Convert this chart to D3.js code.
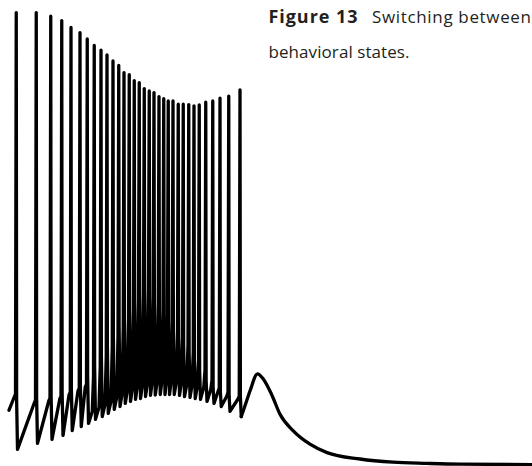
<!DOCTYPE html>
<html>
<head>
<meta charset="utf-8">
<script src="https://cdn.jsdelivr.net/npm/d3@7"></script>
<style>
  html, body { margin: 0; padding: 0; background: #fff; }
  svg { display: block; }
</style>
</head>
<body>
<svg id="chart" width="532" height="466"></svg>
<script>
// ---- Data (time in ms, membrane potential in mV) ----
const spikeTimes = [33, 113, 171, 215, 252, 288, 317, 345, 372, 396, 420, 443, 464, 485, 505, 525,
  545, 565, 584, 604, 623, 641, 660, 681, 701, 723, 744, 765, 791, 819, 848, 883, 928];
const spikePeaks = [39.6, 39.6, 38.7, 37.6, 35.9, 34.6, 33.0, 31.4, 30.2, 29.0, 27.5, 26.4, 24.6, 24.1,
  22.6, 22.1, 20.6, 20.0, 19.6, 18.6, 18.1, 17.5, 17.5, 16.7, 16.7, 16.6, 16.3, 16.5, 17.2, 17.5,
  18.2, 18.7, 20.3];
// potential at which the fast upstroke begins
const spikeOnsets = [-55.8, -57.3, -56.8, -56.3, -55.3, -54.3, -53.3, -51.3, -48.8, -46.3, -43.8, -41.3,
  -39.0, -36.8, -34.5, -32.3, -30.5, -29.8, -31.3, -33.0, -34.8, -36.3, -38.0, -39.8, -41.5, -43.3,
  -45.3, -47.3, -49.8, -52.3, -54.3, -55.3, -56.3];
// potential reached at the end of the slow recovery, just before onset
const recoveries = [-56.5, -58.0, -57.5, -57.0, -56.0, -55.0, -54.0, -60.1, -59.1, -58.4, -57.6, -56.6,
  -55.9, -55.1, -54.6, -54.1, -53.9, -53.4, -53.1, -53.0, -52.9, -52.9, -52.9, -52.9, -53.1, -53.4,
  -53.6, -53.9, -54.1, -54.6, -55.1, -56.3, -57.0];
// after-spike minimum
const troughs = [-69.6, -68.1, -67.1, -66.1, -64.9, -63.9, -63.1, -62.1, -61.4, -60.6, -59.6, -58.9,
  -58.1, -57.6, -57.1, -56.9, -56.4, -56.1, -56.0, -55.9, -55.9, -55.9, -55.9, -56.1, -56.4, -56.6,
  -56.9, -57.1, -57.6, -58.1, -58.9, -60.1, -61.4];
const recoveryLead = 8; // ms before peak when slow recovery ends
const riseTime = 3;     // ms from onset to peak
const repolTime = 1.5;  // ms of fast repolarisation after the peak
const fallTime = 5;     // ms from peak to trough
const startPoint = [4, -59.8];
const tailTimes = [948, 968, 998, 1021, 1054, 1088, 1140, 1208, 1276, 1408, 1540, 1676, 1808, 2100];
const tailValues = [-58.7, -55.0, -50.7, -52.0, -55.8, -60.8, -64.9, -68.3, -70.4, -72.0, -72.8, -73.1, -73.3, -73.4];

const titleBold = "Figure 13";
const titleRest = "Switching between";
const titleLine2 = "behavioral states.";

// ---- Build trace ----
const burst = [startPoint];
spikeTimes.forEach((t, i) => {
  const nextOnset = i + 1 < spikeOnsets.length ? spikeOnsets[i + 1] : spikeOnsets[i];
  burst.push([t - recoveryLead, recoveries[i]]);
  burst.push([t - riseTime, spikeOnsets[i]]);
  burst.push([t, spikePeaks[i]]);
  burst.push([t + repolTime, nextOnset]);
  burst.push([t + fallTime, troughs[i]]);
});
const lastIdx = spikeTimes.length - 1;
const tail = [[spikeTimes[lastIdx] + fallTime, troughs[lastIdx]]];
tailTimes.forEach((t, i) => tail.push([t, tailValues[i]]));

const svg = d3.select("#chart");
const x = d3.scaleLinear().domain([0, 2100]).range([8, 533]);
const y = d3.scaleLinear().domain([-75, 40]).range([471, 11]);

const burstLine = d3.line().x(d => x(d[0])).y(d => y(d[1])).curve(d3.curveLinear);
const tailLine = d3.line().x(d => x(d[0])).y(d => y(d[1])).curve(d3.curveMonotoneX);

[[burst, burstLine], [tail, tailLine]].forEach(([data, gen]) => {
  svg.append("path")
    .datum(data)
    .attr("d", gen)
    .attr("fill", "none")
    .attr("stroke", "#000")
    .attr("stroke-width", 3.3)
    .attr("stroke-linejoin", "round")
    .attr("stroke-linecap", "round");
});

const fontFam = "'Open Sans', Lato, sans-serif";
svg.append("text")
  .attr("x", 268.5).attr("y", 23.3)
  .attr("font-family", fontFam).attr("font-size", 18).attr("font-weight", "bold")
  .attr("fill", "#231f20")
  .attr("textLength", 89).attr("lengthAdjust", "spacing")
  .text(titleBold);
svg.append("text")
  .attr("x", 372).attr("y", 23.3)
  .attr("font-family", fontFam).attr("font-size", 17)
  .attr("fill", "#231f20")
  .attr("textLength", 159).attr("lengthAdjust", "spacing")
  .text(titleRest);
svg.append("text")
  .attr("x", 268.5).attr("y", 58.3)
  .attr("font-family", fontFam).attr("font-size", 17)
  .attr("fill", "#231f20")
  .attr("textLength", 141).attr("lengthAdjust", "spacing")
  .text(titleLine2);
</script>
</body>
</html>
